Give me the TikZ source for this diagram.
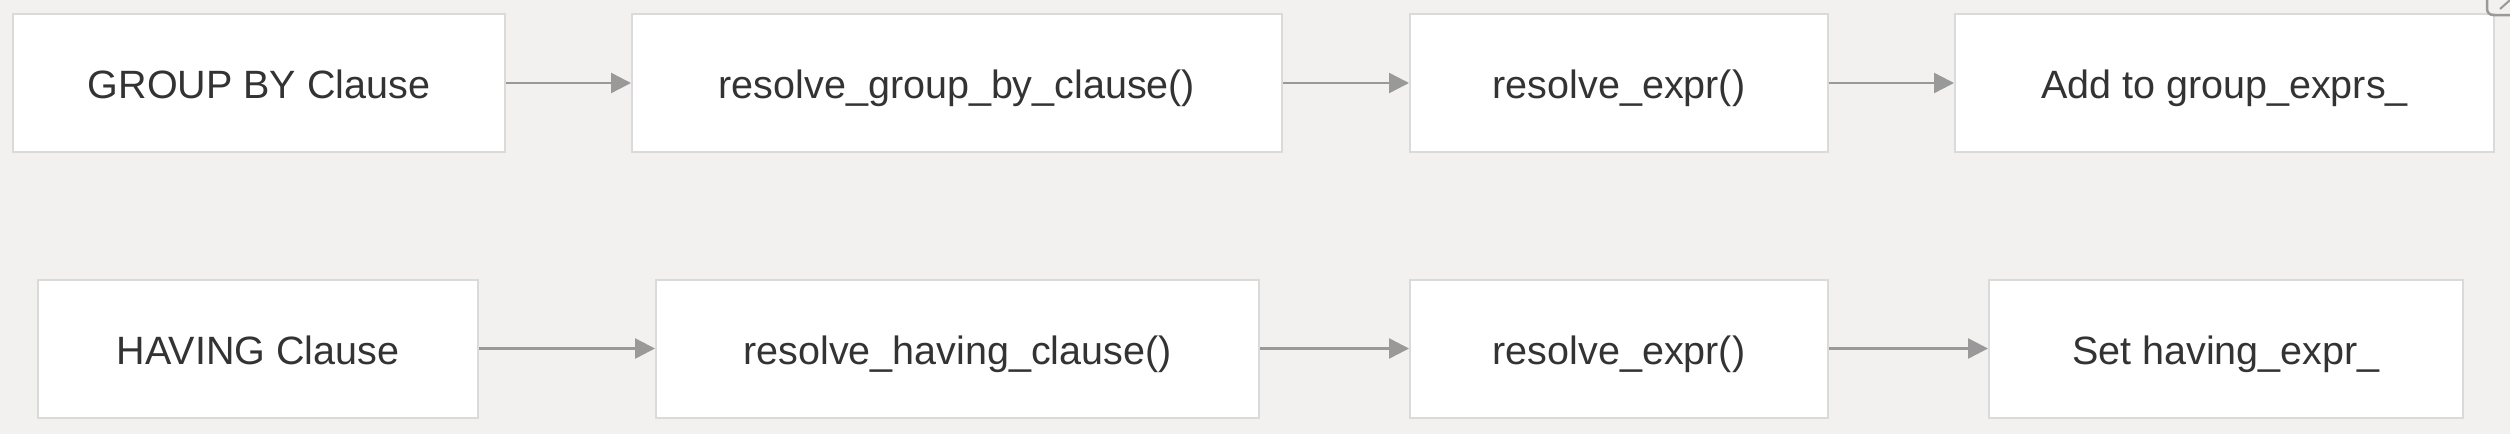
\documentclass[tikz,border=0pt]{standalone}
\usepackage{fontspec}
\setmainfont{Liberation Sans}
\usetikzlibrary{arrows.meta}
\definecolor{bg}{HTML}{F2F1EF}
\definecolor{boxline}{HTML}{DADADA}
\definecolor{arrowc}{HTML}{999999}
\definecolor{txt}{HTML}{333333}
\tikzset{
  flowbox/.style={draw=boxline, line width=2pt, fill=white, rectangle, inner sep=0pt,
    minimum height=138pt, text=txt, text height=31pt, text depth=0pt,
    font=\fontsize{39.5}{46}\selectfont},
  flowarrow/.style={draw=arrowc, line width=2.4pt, -{Triangle[length=20pt,width=20pt]}}
}
\begin{document}
\begin{tikzpicture}[x=1pt,y=-1pt]
\useasboundingbox[fill=bg] (0,0) rectangle (2510,434);
% row 1
\node[flowbox, minimum width=492pt] (g1) at (259,83) {GROUP BY Clause};
\node[flowbox, minimum width=650pt] (g2) at (957,83) {resolve\_group\_by\_clause()};
\node[flowbox, minimum width=418pt] (g3) at (1619,83) {resolve\_expr()};
\node[flowbox, minimum width=539pt] (g4) at (2224.5,83) {Add to group\_exprs\_};
% row 2
\node[flowbox, minimum width=440pt] (h1) at (258,348.5) {HAVING Clause};
\node[flowbox, minimum width=603pt] (h2) at (957.5,348.5) {resolve\_having\_clause()};
\node[flowbox, minimum width=418pt] (h3) at (1619,348.5) {resolve\_expr()};
\node[flowbox, minimum width=474pt] (h4) at (2226,348.5) {Set having\_expr\_};
% arrows
\draw[flowarrow] (g1) -- (g2);
\draw[flowarrow] (g2) -- (g3);
\draw[flowarrow] (g3) -- (g4);
\draw[flowarrow] (h1) -- (h2);
\draw[flowarrow] (h2) -- (h3);
\draw[flowarrow] (h3) -- (h4);
% corner artifact
\begin{scope}
\clip (0,0) rectangle (2510,434);
\draw[arrowc, line width=2.5pt, rounded corners=6pt] (2487,-10) -- (2487,15) -- (2530,15);
\draw[arrowc, line width=2pt] (2500,9) -- (2510,0);
\end{scope}
\end{tikzpicture}
\end{document}
